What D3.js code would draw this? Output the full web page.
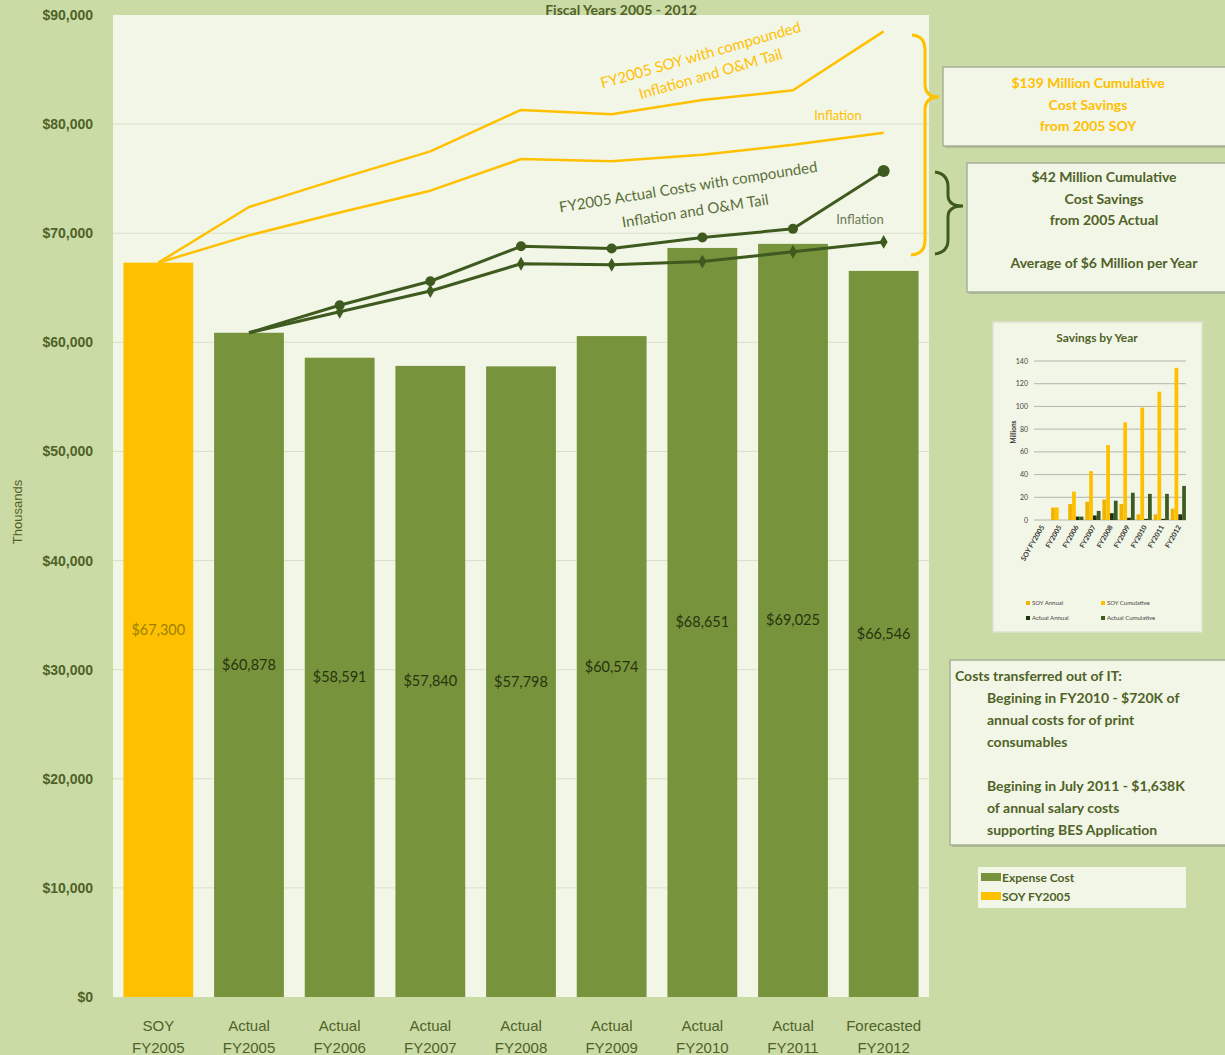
<!DOCTYPE html>
<html>
<head>
<meta charset="utf-8">
<script src="https://cdn.jsdelivr.net/npm/d3@7"></script>
<style>
  body { margin: 0; background: #cbdba5; }
  svg { display: block; }
  .tick text { font-family: "Liberation Sans Narrow", "Liberation Sans", sans-serif; }
</style>
</head>
<body>
<div id="chart"></div>
<script>
// Categories (two lines each)
var categories = ["SOY FY2005", "Actual FY2005", "Actual FY2006", "Actual FY2007", "Actual FY2008",
  "Actual FY2009", "Actual FY2010", "Actual FY2011", "Forecasted FY2012"]
var catTop = ["SOY", "Actual", "Actual", "Actual", "Actual", "Actual", "Actual", "Actual", "Forecasted"]
var catBottom = ["FY2005", "FY2005", "FY2006", "FY2007", "FY2008", "FY2009", "FY2010", "FY2011", "FY2012"]

// Bar values (thousands)
var expenseCost = [67300, 60878, 58591, 57840, 57798, 60574, 68651, 69025, 66546]

// Lines (thousands)
var soyCompounded = [67300, 72400, 75000, 77500, 81300, 80900, 82200, 83100, 88500]
var soyInflation = [67300, 69800, 71900, 73900, 76800, 76600, 77200, 78100, 79200]
var actualCompounded = [null, 60878, 63400, 65600, 68800, 68600, 69600, 70400, 75700]
var actualInflation = [null, 60878, 62800, 64700, 67200, 67100, 67400, 68300, 69200]

var yTicks = [0, 10000, 20000, 30000, 40000, 50000, 60000, 70000, 80000, 90000]

// Mini chart "Savings by Year" (millions)
var miniCats = ["SOY FY2005", "FY2005", "FY2006", "FY2007", "FY2008", "FY2009", "FY2010", "FY2011", "FY2012"]
var miniSeries = ["SOY Annual", "SOY Cumulative", "Actual Annual", "Actual Cumulative"]
var soyAnnual = [0, 11, 14, 16, 18, 14, 5, 5, 10]
var soyCumulative = [0, 11, 25, 43, 66, 86, 99, 113, 134]
var actualAnnual = [0, 0, 3, 4, 6, 2, 1, 1, 5]
var actualCumulative = [0, 0, 3, 8, 17, 24, 23, 23, 30]
var miniTicks = [0, 20, 40, 60, 80, 100, 120, 140]

var W = 1225, H = 1055
var green = "#77933c", yellow = "#ffc000", dark = "#3f5a1f", olive = "#4f6228"
var plotBg = "#f2f6e6"
var boxFont = "Lato, 'Open Sans', sans-serif"
var narrow = "'Liberation Sans Narrow', 'Liberation Sans', sans-serif"

var svg = d3.select("#chart").append("svg").attr("width", W).attr("height", H)
svg.append("rect").attr("width", W).attr("height", H).attr("fill", "#cbdba5")

var plot = { left: 113, right: 929, top: 15, bottom: 997 }

var x = d3.scaleBand().domain(categories).range([plot.left, plot.right]).paddingInner(0.23).paddingOuter(0.115)
var y = d3.scaleLinear().domain([0, 90000]).range([plot.bottom, plot.top])

svg.append("rect")
  .attr("x", plot.left).attr("y", plot.top)
  .attr("width", plot.right - plot.left).attr("height", plot.bottom - plot.top)
  .attr("fill", plotBg)

// Title (sits right at the top edge)
svg.append("text")
  .attr("x", 621).attr("y", 14.5)
  .attr("text-anchor", "middle")
  .attr("font-family", boxFont).attr("font-weight", "bold").attr("font-size", 14)
  .attr("fill", olive)
  .text("Fiscal Years 2005 - 2012")

// Y axis + gridlines
function yAxis(g) {
  g.call(d3.axisLeft(y).tickValues(yTicks).tickFormat(d => "$" + d3.format(",")(d)).tickSize(0).tickPadding(20))
  g.select(".domain").remove()
  g.selectAll(".tick text")
    .attr("font-size", 14).attr("fill", olive).attr("font-weight", "bold")
}
svg.append("g").attr("class", "y axis")
  .attr("transform", `translate(${plot.left},0)`)
  .call(yAxis)

svg.append("g").attr("class", "grid")
  .selectAll("line")
  .data(yTicks.filter(d => d > 0 && d < 90000))
  .enter().append("line")
  .attr("x1", plot.left).attr("x2", plot.right)
  .attr("y1", d => y(d)).attr("y2", d => y(d))
  .attr("stroke", "#d9dfcc").attr("stroke-width", 1)

svg.append("text")
  .attr("transform", "translate(22,512) rotate(-90)")
  .attr("text-anchor", "middle")
  .attr("font-family", narrow).attr("font-size", 13)
  .attr("fill", olive)
  .text("Thousands")

// Bars
var bars = svg.append("g").attr("class", "bars")
bars.selectAll("rect")
  .data(expenseCost)
  .enter().append("rect")
  .attr("x", (d, i) => x(categories[i]))
  .attr("y", d => y(d))
  .attr("width", x.bandwidth())
  .attr("height", d => plot.bottom - y(d))
  .attr("fill", (d, i) => i === 0 ? yellow : green)

bars.selectAll("text")
  .data(expenseCost)
  .enter().append("text")
  .attr("x", (d, i) => x(categories[i]) + x.bandwidth() / 2)
  .attr("y", d => y(d / 2) + 5)
  .attr("text-anchor", "middle")
  .attr("font-family", boxFont).attr("font-size", 14.5)
  .attr("fill", (d, i) => i === 0 ? "#9c8200" : "#26330f")
  .text(d => "$" + d3.format(",")(d))

// X labels
var xl = svg.append("g").attr("class", "x labels")
  .attr("font-family", narrow).attr("font-size", 15)
  .attr("fill", olive).attr("text-anchor", "middle")
categories.forEach((c, i) => {
  var cx = x(c) + x.bandwidth() / 2
  xl.append("text").attr("x", cx).attr("y", 1031).text(catTop[i])
  xl.append("text").attr("x", cx).attr("y", 1053).text(catBottom[i])
})

// Lines
var cx = (d, i) => x(categories[i]) + x.bandwidth() / 2
var line = d3.line().defined(d => d !== null).x(cx).y(d => y(d))

function drawLine(data, color, width) {
  svg.append("path").datum(data)
    .attr("d", line).attr("fill", "none")
    .attr("stroke", color).attr("stroke-width", width)
    .attr("stroke-linejoin", "round")
}
drawLine(soyCompounded, yellow, 2.5)
drawLine(soyInflation, yellow, 2.5)
drawLine(actualCompounded, dark, 3)
drawLine(actualInflation, dark, 3)

// Markers
svg.append("g").selectAll("circle")
  .data(actualCompounded.map((d, i) => ({ d, i })).filter(p => p.i > 1))
  .enter().append("circle")
  .attr("cx", p => cx(p.d, p.i)).attr("cy", p => y(p.d))
  .attr("r", p => p.i === 8 ? 6 : 5)
  .attr("fill", dark)

var diamond = d3.symbol().type(d3.symbolDiamond).size(55)
svg.append("g").selectAll("path")
  .data(actualInflation.map((d, i) => ({ d, i })).filter(p => p.i > 1))
  .enter().append("path")
  .attr("d", diamond)
  .attr("transform", p => `translate(${cx(p.d, p.i)},${y(p.d)})`)
  .attr("fill", dark)

// Line annotations
function rotText(txt, tx, ty, angle, color, size) {
  svg.append("text")
    .attr("transform", `translate(${tx},${ty}) rotate(${angle})`)
    .attr("text-anchor", "middle")
    .attr("font-family", boxFont).attr("font-size", size)
    .attr("fill", color)
    .text(txt)
}
rotText("FY2005 SOY with compounded", 702, 60, -16, yellow, 15)
rotText("Inflation and O&M Tail", 712, 79, -16, yellow, 15)
rotText("FY2005 Actual Costs with compounded", 689, 192, -9, "#5a6e3a", 15)
rotText("Inflation and O&M Tail", 696, 216, -9, "#5a6e3a", 15)
rotText("Inflation", 838, 120, 0, yellow, 13)
rotText("Inflation", 860, 224, 0, "#6a7a55", 13)

// Curly braces
svg.append("path")
  .attr("d", "M912,35 Q925,36 925,50 L925,84 Q925,97 939,97 Q925,97 925,110 L925,240 Q925,254 911,255")
  .attr("fill", "none").attr("stroke", yellow).attr("stroke-width", 3)
svg.append("path")
  .attr("d", "M935,172 Q948,174 948,187 L948,195 Q948,206 963,206 Q948,206 948,217 L948,240 Q948,252 935,254")
  .attr("fill", "none").attr("stroke", dark).attr("stroke-width", 3)

// Text boxes
function textBox(bx, by, bw, bh) {
  svg.append("rect").attr("x", bx + 2).attr("y", by + 2).attr("width", bw).attr("height", bh)
    .attr("fill", "#9aa58a").attr("opacity", 0.6)
  svg.append("rect").attr("x", bx).attr("y", by).attr("width", bw).attr("height", bh)
    .attr("fill", plotBg).attr("stroke", "#a9b199").attr("stroke-width", 1.5)
}
function boxLines(lines, tx, ty0, step, color, anchor) {
  var t = svg.append("g").attr("font-family", boxFont).attr("font-weight", "bold")
    .attr("font-size", 14).attr("fill", color).attr("text-anchor", anchor || "middle")
  lines.forEach((l, i) => {
    if (l.text) t.append("text").attr("x", l.x !== undefined ? l.x : tx).attr("y", ty0 + i * step).text(l.text)
  })
}

textBox(943, 67, 290, 79)
boxLines([{ text: "$139 Million Cumulative" }, { text: "Cost Savings" }, { text: "from 2005 SOY" }],
  1088, 88, 21.5, yellow)

textBox(967, 163, 265, 129)
boxLines([{ text: "$42 Million Cumulative" }, { text: "Cost Savings" }, { text: "from 2005 Actual" }, {}, { text: "Average of $6 Million per Year" }],
  1104, 182, 21.5, olive)

textBox(950, 660, 280, 185)
boxLines([
  { text: "Costs transferred out of IT:", x: 955 },
  { text: "Begining in FY2010 - $720K of", x: 987 },
  { text: "annual costs for of print", x: 987 },
  { text: "consumables", x: 987 },
  {},
  { text: "Begining in July 2011 - $1,638K", x: 987 },
  { text: "of annual salary costs", x: 987 },
  { text: "supporting BES Application", x: 987 }
], 0, 681, 22, olive, "start")

// Legend
svg.append("rect").attr("x", 978).attr("y", 867).attr("width", 208).attr("height", 41).attr("fill", plotBg)
var legendItems = [{ label: "Expense Cost", color: green }, { label: "SOY FY2005", color: yellow }]
var lg = svg.append("g").attr("font-family", boxFont).attr("font-size", 12).attr("font-weight", "bold").attr("fill", olive)
legendItems.forEach((it, i) => {
  lg.append("rect").attr("x", 981).attr("y", 873 + i * 19).attr("width", 20).attr("height", 8).attr("fill", it.color)
  lg.append("text").attr("x", 1002).attr("y", 882 + i * 19).text(it.label)
})

// Mini chart: Savings by Year
var mb = { x: 993, y: 322, w: 209, h: 310 }
svg.append("rect").attr("x", mb.x).attr("y", mb.y).attr("width", mb.w).attr("height", mb.h)
  .attr("fill", plotBg).attr("stroke", "#dde3cf").attr("stroke-width", 1.5)
svg.append("text").attr("x", 1097).attr("y", 342).attr("text-anchor", "middle")
  .attr("font-family", boxFont).attr("font-weight", "bold").attr("font-size", 12).attr("fill", olive)
  .text("Savings by Year")

var mx = d3.scaleBand().domain(miniCats).range([1034, 1186]).paddingInner(0.1)
var my = d3.scaleLinear().domain([0, 140]).range([520, 361])
var ms = d3.scaleBand().domain(miniSeries).range([0, mx.bandwidth()]).padding(0.02)
var miniColors = ["#f0b400", "#ffc000", "#1f3311", "#3d5a22"]
var miniData = [soyAnnual, soyCumulative, actualAnnual, actualCumulative]

var mg = svg.append("g")
mg.selectAll("line.mgrid").data(miniTicks).enter().append("line")
  .attr("x1", 1034).attr("x2", 1186).attr("y1", d => my(d)).attr("y2", d => my(d))
  .attr("stroke", "#8c8c8c").attr("stroke-width", 0.6)
mg.selectAll("text.mtick").data(miniTicks).enter().append("text")
  .attr("x", 1028).attr("y", d => my(d) + 2.5).attr("text-anchor", "end")
  .attr("font-family", boxFont).attr("font-size", 7).attr("fill", "#444")
  .text(d => d)
mg.append("text").attr("transform", "translate(1016,432) rotate(-90)").attr("text-anchor", "middle")
  .attr("font-family", boxFont).attr("font-size", 6.5).attr("font-weight", "bold").attr("fill", "#333")
  .text("Millions")

miniSeries.forEach((s, si) => {
  mg.append("g").selectAll("rect").data(miniData[si]).enter().append("rect")
    .attr("x", (d, i) => mx(miniCats[i]) + ms(s))
    .attr("y", d => my(d))
    .attr("width", ms.bandwidth())
    .attr("height", d => my(0) - my(d))
    .attr("fill", miniColors[si])
})

mg.selectAll("text.mcat").data(miniCats).enter().append("text")
  .attr("transform", d => `translate(${mx(d) + mx.bandwidth() / 2 + 3},${527}) rotate(-60)`)
  .attr("text-anchor", "end")
  .attr("font-family", boxFont).attr("font-size", 7).attr("font-weight", "bold").attr("fill", "#333")
  .text(d => d)

miniSeries.forEach((s, si) => {
  var lx = si % 2 === 0 ? 1026 : 1101
  var ly = si < 2 ? 605 : 620
  mg.append("rect").attr("x", lx).attr("y", ly - 4).attr("width", 4).attr("height", 4).attr("fill", miniColors[si])
  mg.append("text").attr("x", lx + 6).attr("y", ly).attr("font-family", boxFont).attr("font-size", 6)
    .attr("fill", "#444").text(s)
})
</script>
</body>
</html>
